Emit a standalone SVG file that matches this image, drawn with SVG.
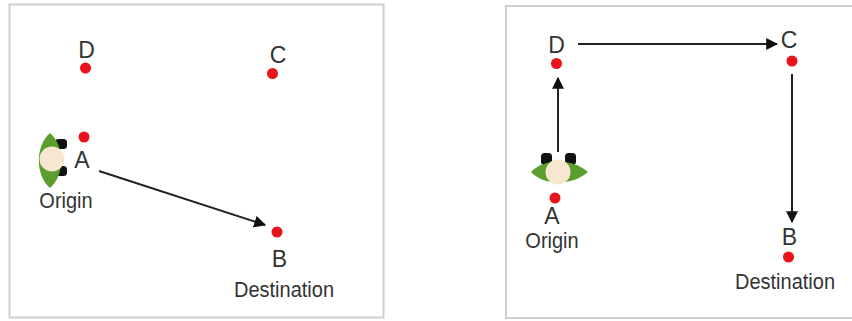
<svg xmlns="http://www.w3.org/2000/svg" width="852" height="321" viewBox="0 0 852 321">
  <style>
    .panel { fill: #ffffff; stroke: #cfcfcf; stroke-width: 2; }
    .pt { fill: #e8131b; }
    .lbl { font-family: "Liberation Sans", Arial, sans-serif; font-size: 23px; fill: #333333; text-anchor: middle; }
    .cap { font-family: "Liberation Sans", Arial, sans-serif; font-size: 20px; fill: #333333; text-anchor: middle; }
    .edge { stroke: #222222; stroke-width: 2; fill: none; marker-end: url(#head); }
    .shell { fill: #5b9e2f; }
    .head { fill: #f7e7d1; }
    .ear { fill: #111111; }
  </style>
  <defs>
    <marker id="head" viewBox="0 0 10 10" refX="9" refY="5" markerWidth="6" markerHeight="6" orient="auto" markerUnits="strokeWidth">
      <path d="M0,0 L10,5 L0,10 Z" fill="#111111"/>
    </marker>
  </defs>

  <rect width="852" height="321" fill="#ffffff"/>

  <!-- left panel: direct route -->
  <rect class="panel" x="9.5" y="4.5" width="374" height="313"/>
  <!-- right panel: route via D and C -->
  <rect class="panel" x="506" y="6" width="360" height="312"/>

  <g id="connectors">
    <line class="edge" x1="99" y1="171" x2="265" y2="225"/>
    <line class="edge" x1="558" y1="152" x2="558" y2="78"/>
    <line class="edge" x1="578" y1="44" x2="777" y2="44"/>
    <line class="edge" x1="792" y1="74" x2="792" y2="222"/>
  </g>

  <!-- left panel nodes -->
  <g id="left-D">
    <circle class="pt" cx="85.5" cy="68" r="5.5"/>
    <text class="lbl" x="86.5" y="58">D</text>
  </g>
  <g id="left-C">
    <circle class="pt" cx="272.5" cy="73.5" r="5.5"/>
    <text class="lbl" x="278" y="63">C</text>
  </g>
  <g id="left-A">
    <circle class="pt" cx="84" cy="137" r="5.5"/>
    <text class="lbl" x="82" y="168">A</text>
    <text class="cap" transform="translate(66,208) scale(1,1.1)">Origin</text>
  </g>
  <g id="left-walker">
    <rect class="ear" x="55" y="139" width="12" height="10" rx="3.5"/>
    <rect class="ear" x="55" y="166" width="12" height="10" rx="3.5"/>
    <path class="shell" d="M50,133 C65,146 65,175 50,188 C35,175 35,146 50,133 Z"/>
    <circle class="head" cx="52" cy="159" r="12.5"/>
  </g>
  <g id="left-B">
    <circle class="pt" cx="277" cy="232" r="5.5"/>
    <text class="lbl" x="279.5" y="267">B</text>
    <text class="cap" transform="translate(284,297) scale(1,1.1)">Destination</text>
  </g>

  <!-- right panel nodes -->
  <g id="right-D">
    <circle class="pt" cx="556.5" cy="63.5" r="5.5"/>
    <text class="lbl" x="556.5" y="53">D</text>
  </g>
  <g id="right-C">
    <circle class="pt" cx="792" cy="61" r="5.5"/>
    <text class="lbl" x="789" y="48">C</text>
  </g>
  <g id="right-walker">
    <rect class="ear" x="541" y="153" width="11" height="12" rx="3.5"/>
    <rect class="ear" x="565" y="153" width="11" height="12" rx="3.5"/>
    <path class="shell" d="M531,172 C544,158 572,158 588,172 C572,186 544,186 531,172 Z"/>
    <circle class="head" cx="558" cy="172" r="12.5"/>
  </g>
  <g id="right-A">
    <circle class="pt" cx="555" cy="198" r="5.5"/>
    <text class="lbl" x="552" y="224">A</text>
    <text class="cap" transform="translate(552,248) scale(1,1.1)">Origin</text>
  </g>
  <g id="right-B">
    <circle class="pt" cx="788.5" cy="257" r="5.5"/>
    <text class="lbl" x="789.5" y="245">B</text>
    <text class="cap" transform="translate(785,289) scale(1,1.1)">Destination</text>
  </g>
</svg>
